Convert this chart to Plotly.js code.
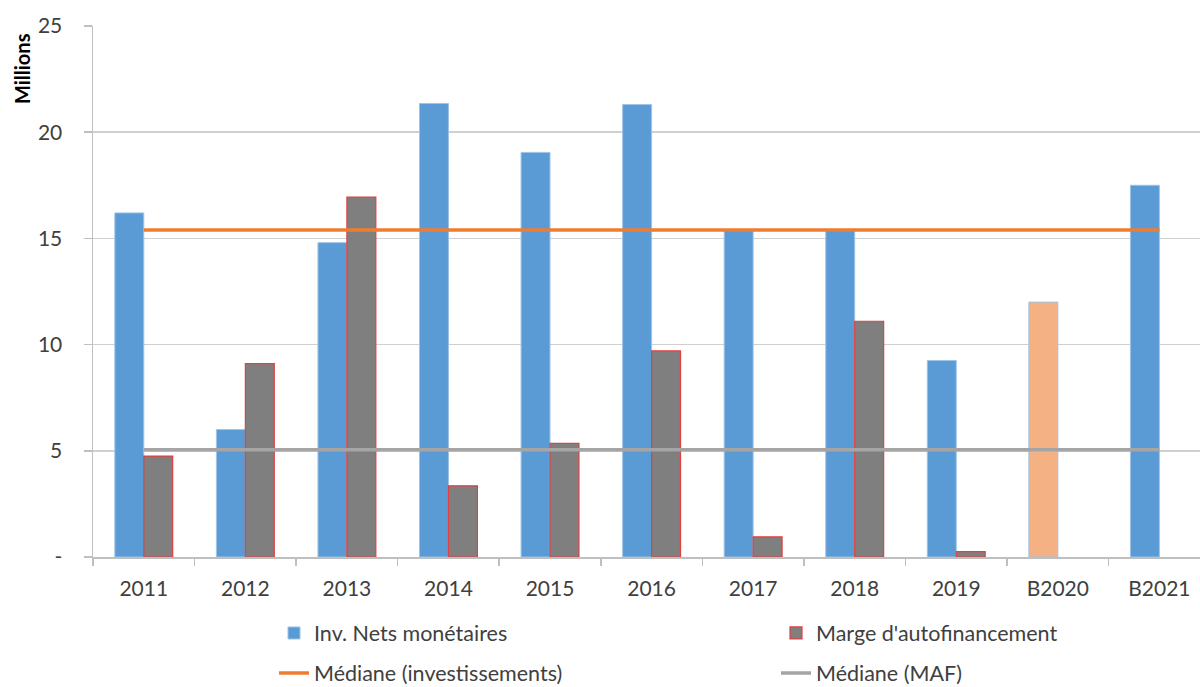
<!DOCTYPE html>
<html>
<head>
<meta charset="utf-8">
<script src="https://cdn.plot.ly/plotly-3.0.1.min.js"></script>
<style>html,body{margin:0;padding:0;background:#fff;}#chart{width:1200px;height:687px;}</style>
</head>
<body>
<div id="chart"></div>
<script>
const categories = ["2011","2012","2013","2014","2015","2016","2017","2018","2019","B2020","B2021"];
const invNets = [16.2, 6.0, 14.8, 21.35, 19.05, 21.3, 15.4, 15.4, 9.25, 12.0, 17.5];
const invColors = ["#5b9bd5","#5b9bd5","#5b9bd5","#5b9bd5","#5b9bd5","#5b9bd5","#5b9bd5","#5b9bd5","#5b9bd5","#f4b183","#5b9bd5"];
const marge = [4.75, 9.1, 16.95, 3.35, 5.35, 9.7, 0.95, 11.1, 0.25, null, null];
const medianeInv = [15.4, 15.4, 15.4, 15.4, 15.4, 15.4, 15.4, 15.4, 15.4, 15.4, 15.4];
const medianeMaf = [5.05, 5.05, 5.05, 5.05, 5.05, 5.05, 5.05, 5.05, 5.05, 5.05, 5.05];
const yTickVals = [0, 5, 10, 15, 20, 25];
const yTickText = ["-", "5", "10", "15", "20", "25"];

const FONT = "Lato, 'Open Sans', sans-serif";
const TXT = "#404040";

const traces = [
  {type:"bar", name:"Inv. Nets monétaires", x:categories, y:invNets,
   marker:{color:invColors, line:{color:"#9dc3e6", width:1}}, legend:"legend"},
  {type:"bar", name:"Marge d'autofinancement", x:categories, y:marge,
   marker:{color:"#7f7f7f", line:{color:"#e04040", width:1.2}}, legend:"legend2"},
  {type:"scatter", mode:"lines", name:"Médiane (investissements)", x:categories, y:medianeInv,
   line:{color:"#ed7d31", width:3.5}, legend:"legend3"},
  {type:"scatter", mode:"lines", name:"Médiane (MAF)", x:categories, y:medianeMaf,
   line:{color:"#a5a5a5", width:3.5}, legend:"legend4"}
];

function leg(xpx, ypx) {
  return {orientation:"h", xref:"container", yref:"container", xanchor:"left", yanchor:"middle",
    x:xpx/1200, y:1-ypx/687,
    font:{family:FONT, size:21.5, color:TXT}, bgcolor:"rgba(0,0,0,0)", itemwidth:30};
}

const layout = {
  width:1200, height:687,
  margin:{l:93, r:0, t:26, b:130, autoexpand:false},
  paper_bgcolor:"#fff", plot_bgcolor:"#fff",
  font:{family:FONT, size:21, color:TXT},
  barmode:"group", bargap:0.43, bargroupgap:0,
  showlegend:true,
  legend:leg(274, 633),
  legend2:leg(776, 633),
  legend3:leg(274, 673),
  legend4:leg(776, 673),
  xaxis:{type:"category", range:[-0.5, 10.4], showgrid:false,
    showline:true, linecolor:"#bfbfbf", linewidth:1.5,
    ticks:"outside", tickson:"boundaries", ticklen:7, tickcolor:"#bfbfbf", tickwidth:1.5,
    tickfont:{family:FONT, size:21, color:TXT}, ticklabelstandoff:12, fixedrange:true},
  yaxis:{range:[0,25], tickvals:yTickVals, ticktext:yTickText,
    showgrid:true, gridcolor:"#d0d0d0", gridwidth:1.5,
    showline:true, linecolor:"#bfbfbf", linewidth:1.5,
    ticks:"outside", ticklen:8, tickcolor:"#bfbfbf", tickwidth:1.5,
    tickfont:{family:FONT, size:21, color:TXT}, ticklabelstandoff:17,
    zeroline:false, fixedrange:true},
  annotations:[{text:"<b>Millions</b>", textangle:-90, xref:"paper", yref:"paper",
    x:(22-93)/1107, y:(557-68)/531, xanchor:"center", yanchor:"middle", showarrow:false,
    font:{family:FONT, size:20, color:"#000"}}]
};

Plotly.newPlot("chart", traces, layout, {displayModeBar:false, staticPlot:true});
</script>
</body>
</html>
